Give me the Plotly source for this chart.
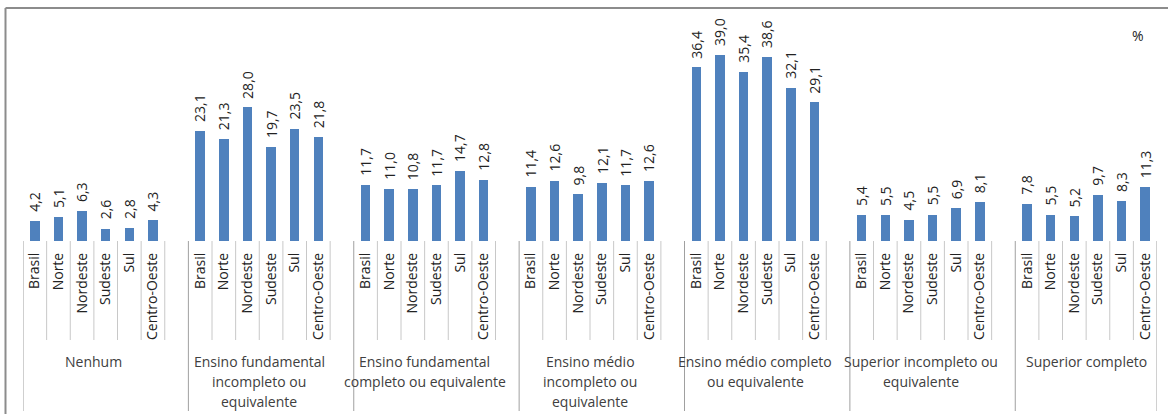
import plotly.graph_objects as go

# ---- data ----
regions = ["Brasil", "Norte", "Nordeste", "Sudeste", "Sul", "Centro-Oeste"]
groups = [
    "Nenhum",
    "Ensino fundamental<br>incompleto ou<br>equivalente",
    "Ensino fundamental<br>completo ou equivalente",
    "Ensino médio<br>incompleto ou<br>equivalente",
    "Ensino médio completo<br>ou equivalente",
    "Superior incompleto ou<br>equivalente",
    "Superior completo",
]
nenhum = [4.2, 5.1, 6.3, 2.6, 2.8, 4.3]
fund_incompleto = [23.1, 21.3, 28.0, 19.7, 23.5, 21.8]
fund_completo = [11.7, 11.0, 10.8, 11.7, 14.7, 12.8]
medio_incompleto = [11.4, 12.6, 9.8, 12.1, 11.7, 12.6]
medio_completo = [36.4, 39.0, 35.4, 38.6, 32.1, 29.1]
sup_incompleto = [5.4, 5.5, 4.5, 5.5, 6.9, 8.1]
sup_completo = [7.8, 5.5, 5.2, 9.7, 8.3, 11.3]
series = [nenhum, fund_incompleto, fund_completo, medio_incompleto,
          medio_completo, sup_incompleto, sup_completo]

# ---- layout constants (pixels) ----
W, H = 1168, 414
X0, X1 = 23, 1157          # plot x extent
Y_BASE, Y_TOP = 241, 8     # baseline and top border
SLOTS = len(groups) * 7 - 1
YMAX = (Y_BASE - Y_TOP) / 4.77

def py(p):  # pixel-from-top -> paper fraction
    return (H - p) / H

FONT = "Open Sans"
xs, ys, labels = [], [], []
for g, vals in enumerate(series):
    for k, v in enumerate(vals):
        xs.append(7 * g + k)
        ys.append(v)
        labels.append(regions[k])

fig = go.Figure()
fig.add_trace(go.Bar(
    x=xs, y=ys, width=0.4, marker=dict(color="#4F81BD", line=dict(width=0)),
    hoverinfo="skip", showlegend=False,
))

annotations = []
for x, v in zip(xs, ys):
    annotations.append(dict(
        x=x, y=v, xref="x", yref="y", text=f"{v:.1f}".replace(".", ","),
        textangle=-90, showarrow=False, yanchor="bottom", xanchor="center",
        yshift=7, font=dict(family=FONT, size=14, color="#222222"),
    ))

for g, name in enumerate(groups):
    cx = 7 * g + 2.5
    for i, line in enumerate(name.split("<br>")):
        annotations.append(dict(
            x=cx, y=py(361 + 20 * i), xref="x", yref="paper", text=line,
            showarrow=False, xanchor="center", yanchor="middle",
            font=dict(family=FONT, size=14, color="#404040"),
        ))

annotations.append(dict(
    x=1138 / W, y=py(35), xref="paper", yref="paper", text="%",
    showarrow=False, xanchor="center", yanchor="middle",
    font=dict(family=FONT, size=14, color="#222222"),
))

shapes = []
# border (top + left)
shapes.append(dict(type="line", xref="paper", yref="paper",
                   x0=5.5 / W, x1=1.0, y0=py(8), y1=py(8),
                   line=dict(color="#8C8C8C", width=2)))
shapes.append(dict(type="line", xref="paper", yref="paper",
                   x0=5.5 / W, x1=5.5 / W, y0=py(8), y1=0,
                   line=dict(color="#8C8C8C", width=2)))
# category dividers
for g in range(len(groups)):
    for k in range(6):
        xv = 7 * g + k + 0.5
        if xv >= SLOTS - 0.5:
            continue
        shapes.append(dict(type="line", xref="x", yref="paper",
                           x0=xv, x1=xv, y0=py(Y_BASE), y1=py(340),
                           line=dict(color="#C8C8C8", width=1)))
# group dividers
for xv in [7 * g - 0.5 for g in range(len(groups))] + [SLOTS - 0.5]:
    shapes.append(dict(type="line", xref="x", yref="paper",
                       x0=xv, x1=xv, y0=py(Y_BASE), y1=py(411),
                       line=dict(color="#A0A0A0", width=1)))

fig.update_layout(
    width=W, height=H, margin=dict(l=0, r=0, t=0, b=0),
    paper_bgcolor="white", plot_bgcolor="white",
    bargap=0, annotations=annotations, shapes=shapes,
    xaxis=dict(
        domain=[X0 / W, X1 / W], range=[-0.5, SLOTS - 0.5],
        tickmode="array", tickvals=xs, ticktext=labels, tickangle=-90,
        ticks="", showgrid=False, zeroline=False, showline=False,
        ticklabelstandoff=8,
        tickfont=dict(family=FONT, size=14, color="#222222"),
    ),
    yaxis=dict(
        domain=[py(Y_BASE), py(Y_TOP)], range=[0, YMAX],
        showticklabels=False, showgrid=False, zeroline=False, showline=False,
        ticks="",
    ),
)

fig.write_html(
    "out.html",
    config={"displayModeBar": False, "staticPlot": True},
    post_script="document.body.style.margin='0';document.body.style.overflow='hidden';",
)
